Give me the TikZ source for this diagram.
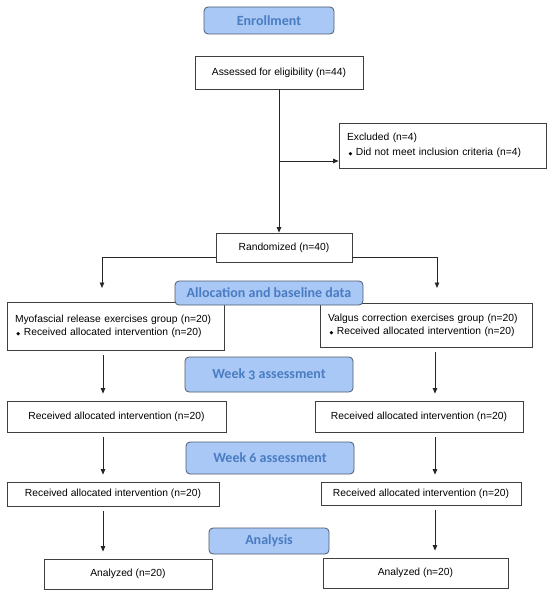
\documentclass[tikz,border=0pt]{standalone}
\usepackage{fontspec}
\setmainfont{Liberation Sans}
\newfontfamily\phasefont{Carlito}[Numbers=OldStyle]
\newfontfamily\bulfont{DejaVu Sans}
\usetikzlibrary{arrows.meta,positioning}

\definecolor{boxline}{HTML}{3F3F3F}
\definecolor{phasefill}{HTML}{A9C8F6}
\definecolor{phaseline}{HTML}{4D5B6E}
\definecolor{phasetext}{HTML}{4A7CC2}

\newcommand{\bul}{\hspace{1.5pt}{\bulfont\fontsize{5}{5}\selectfont ◆}\hspace{3.5pt}}

\begin{document}
\begin{tikzpicture}[x=1pt,y=-1pt,>={Triangle[length=5.5pt,width=4.5pt]},
        flowbox/.style={draw=boxline,line width=0.8pt,inner sep=0pt,
                        font=\fontsize{10.3}{13}\selectfont},
        listbox/.style={flowbox,align=left,inner xsep=8pt},
        phase/.style={draw=phaseline,fill=phasefill,rounded corners=4pt,
                      line width=0.8pt,inner sep=0pt,text=phasetext,
                      font=\phasefont\bfseries\fontsize{14}{16}\selectfont},
        arr/.style={->,line width=0.8pt,draw=black!85,shorten <=5pt,shorten >=7pt}]
        \useasboundingbox (0,0) rectangle (550,596);

        % boxes
        \node[flowbox,minimum width=168pt,minimum height=33pt] (assess) at (279,72.5) {Assessed for eligibility (n=44)};
        \node[listbox,text width=191pt,minimum height=45pt] (excl) at (442.5,145.5)
            {Excluded (n=4)\\[2pt]\bul Did not meet inclusion criteria (n=4)};
        \node[flowbox,minimum width=136pt,minimum height=29pt] (rand) at (284,247.5) {Randomized (n=40)};
        \node[listbox,text width=201pt,minimum height=48pt] (myo) at (115.5,326)
            {Myofascial release exercises group (n=20)\\\bul Received allocated intervention (n=20)};
        \node[listbox,text width=196pt,minimum height=44pt] (valg) at (426,325)
            {Valgus correction exercises group (n=20)\\\bul Received allocated intervention (n=20)};
        \node[flowbox,minimum width=219pt,minimum height=31pt] (r3L) at (116.5,416.5) {Received allocated intervention (n=20)};
        \node[flowbox,minimum width=208pt,minimum height=31pt] (r3R) at (419,416.5) {Received allocated intervention (n=20)};
        \node[flowbox,minimum width=212pt,minimum height=24pt] (r6L) at (113,494) {Received allocated intervention (n=20)};
        \node[flowbox,minimum width=200pt,minimum height=23pt] (r6R) at (421,493.5) {Received allocated intervention (n=20)};
        \node[flowbox,minimum width=168pt,minimum height=30pt] (anL) at (128,574) {Analyzed (n=20)};
        \node[flowbox,minimum width=185pt,minimum height=30pt] (anR) at (415.5,573) {Analyzed (n=20)};

        % phase labels
        \node[phase,minimum width=130pt,minimum height=27pt] (enroll) at (269,20.5) {Enrollment};
        \node[phase,minimum width=188pt,minimum height=24pt] (alloc) at (269,293) {Allocation and baseline data};
        \node[phase,minimum width=168pt,minimum height=35pt] (wk3) at (269,374.5) {Week 3 assessment};
        \node[phase,minimum width=168pt,minimum height=32pt] (wk6) at (270,458) {Week 6 assessment};
        \node[phase,minimum width=120pt,minimum height=26pt] (anal) at (269,541) {Analysis};

        \coordinate (tap) at (279,161);
        \coordinate (armL) at (102,288);
        \coordinate (armR) at (437,288);
        \coordinate (colL) at (103,0);
        \coordinate (colR) at (435,0);

        \draw[->,line width=0.8pt,draw=black!85] (assess.south) -- (assess.south |- rand.north);
        \draw[->,line width=0.8pt,draw=black!85] (tap) -- (tap -| excl.west);
        \draw[->,line width=0.8pt,draw=black!85] ([yshift=-9.5pt]rand.west) -| (armL);
        \draw[->,line width=0.8pt,draw=black!85] ([yshift=-9.5pt]rand.east) -| (armR);

        \draw[arr] (myo.south -| colL) -- (r3L.north -| colL);
        \draw[arr] (r3L.south -| colL) -- (r6L.north -| colL);
        \draw[arr] (r6L.south -| colL) -- (anL.north -| colL);
        \draw[arr] (valg.south -| colR) -- (r3R.north -| colR);
        \draw[arr] (r3R.south -| colR) -- (r6R.north -| colR);
        \draw[arr] (r6R.south -| colR) -- (anR.north -| colR);
\end{tikzpicture}
\end{document}
